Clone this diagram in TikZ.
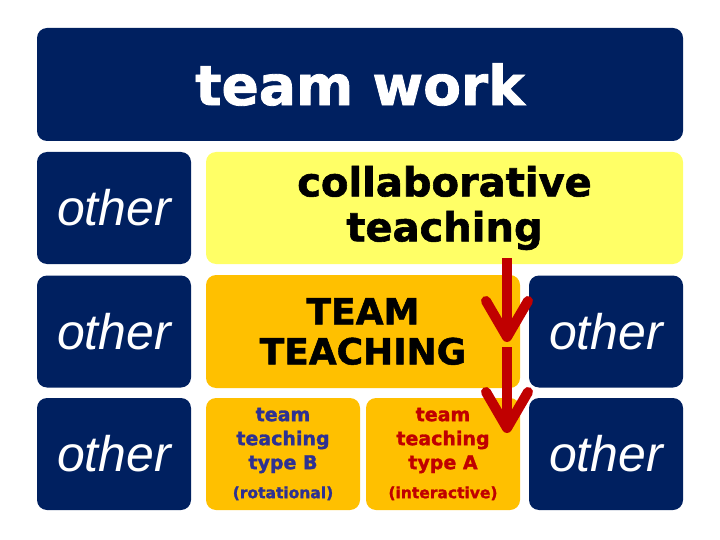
\documentclass[tikz,border=0pt]{standalone}
\usepackage{fontspec}
\setmainfont{Liberation Sans}
\newfontfamily\heavyfont{DejaVu Sans}[BoldFeatures={FakeBold=1.5}]
\usetikzlibrary{arrows.meta}
\definecolor{navy}{HTML}{002060}
\definecolor{paleyellow}{HTML}{FFFF66}
\definecolor{gold}{HTML}{FFC000}
\definecolor{darkred}{HTML}{C00000}
\definecolor{indigo}{HTML}{2E3192}
\tikzset{
  box/.style={rounded corners=10pt, inner sep=0pt, align=center},
  navybox/.style={box, fill=navy, text=white, minimum width=154pt, minimum height=112pt,
    font=\fontsize{50}{50}\selectfont\itshape},
  goldbox/.style={box, fill=gold, minimum width=154pt, minimum height=112pt,
    font=\heavyfont\bfseries\fontsize{19}{24}\selectfont},
  downarrow/.style={darkred, line width=10pt, -{Straight Barb[length=36pt, width=42pt, round]}}
}
\begin{document}
\begin{tikzpicture}[x=1pt, y=-1pt]
  \useasboundingbox (0,0) rectangle (720,540);
  % top bar
  \node[box, fill=navy, text=white, minimum width=646pt, minimum height=113pt,
    font=\heavyfont\bfseries\fontsize{55}{55}\selectfont] (teamwork) at (360,84.5) {team work};
  % left column
  \node[navybox] (other1) at (114,208) {other};
  \node[navybox] (other2) at (114,331.5) {other};
  \node[navybox] (other3) at (114,454) {other};
  % middle
  \node[box, fill=paleyellow, minimum width=477pt, minimum height=112pt,
    font=\heavyfont\bfseries\fontsize{40}{45}\selectfont] (collab) at (444.5,208) {collaborative\\teaching};
  \node[box, fill=gold, minimum width=314pt, minimum height=113pt,
    font=\heavyfont\bfseries\fontsize{36}{40}\selectfont] (teamteach) at (363,331.5) {TEAM\\TEACHING};
  \node[goldbox, text=indigo] (typeB) at (283,454) {team\\teaching\\type B\\[5pt]{\fontsize{15.5}{18}\selectfont(rotational)}};
  \node[goldbox, text=darkred] (typeA) at (443,454) {team\\teaching\\type A\\[5pt]{\fontsize{15.5}{18}\selectfont(interactive)}};
  % right column
  \node[navybox] (other4) at (606,331.5) {other};
  \node[navybox] (other5) at (606,454) {other};
  % arrows
  \coordinate (a1) at (507,258);
  \coordinate (a2) at (507,342);
  \coordinate (a3) at (507,347);
  \coordinate (a4) at (507,433);
  \draw[downarrow] (a1) -- (a2);
  \draw[downarrow] (a3) -- (a4);
\end{tikzpicture}
\end{document}
